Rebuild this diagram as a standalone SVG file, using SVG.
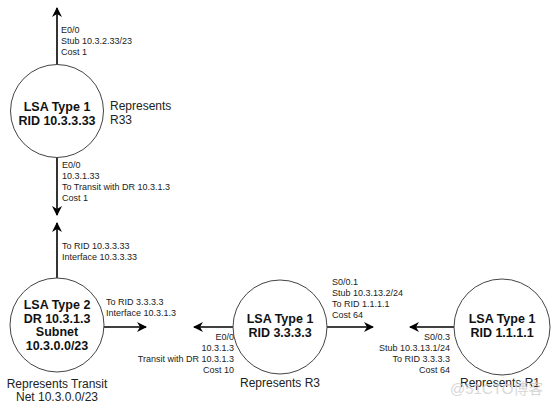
<svg xmlns="http://www.w3.org/2000/svg" width="558" height="409" viewBox="0 0 558 409">
<defs>
<marker id="ah" viewBox="0 0 10 10" refX="9" refY="5" markerWidth="10" markerHeight="10" markerUnits="userSpaceOnUse" orient="auto">
<path d="M0,0 L10,5 L0,10 L3,5 Z" fill="#000"/>
</marker>
<style>
.node{fill:#fff;stroke:#444;stroke-width:1}
.t{font-family:"Liberation Sans",Arial,sans-serif;font-weight:bold;font-size:12.5px;text-anchor:middle;fill:#111}
.r{font-family:"Liberation Sans",Arial,sans-serif;font-size:12px;fill:#222}
.l{font-family:"Liberation Sans",Arial,sans-serif;font-size:9px;fill:#222}
.e{text-anchor:end}
.m{text-anchor:middle}
.c{stroke:#000;stroke-width:1.6;fill:none;marker-end:url(#ah)}
</style>
</defs>
<rect width="558" height="409" fill="#fff"/>
<g id="connectors">
<line class="c" x1="57" y1="65" x2="57" y2="8"/>
<line class="c" x1="57" y1="158" x2="57" y2="215"/>
<line class="c" x1="57" y1="278" x2="57" y2="223"/>
<line class="c" x1="104" y1="327" x2="146" y2="327"/>
<line class="c" x1="233" y1="327" x2="194" y2="327"/>
<line class="c" x1="327" y1="327" x2="373" y2="327"/>
<line class="c" x1="454" y1="327" x2="410" y2="327"/>
<text class="l" x="61" y="33">E0/0</text>
<text class="l" x="61" y="44">Stub 10.3.2.33/23</text>
<text class="l" x="61" y="55">Cost 1</text>
<text class="l" x="62" y="168">E0/0</text>
<text class="l" x="62" y="179">10.3.1.33</text>
<text class="l" x="62" y="190">To Transit with DR 10.3.1.3</text>
<text class="l" x="62" y="201">Cost 1</text>
<text class="l" x="62" y="249">To RID 10.3.3.33</text>
<text class="l" x="62" y="260">Interface 10.3.3.33</text>
<text class="l" x="106" y="305">To RID 3.3.3.3</text>
<text class="l" x="106" y="316">Interface 10.3.1.3</text>
<text class="l e" x="234" y="340">E0/0</text>
<text class="l e" x="234" y="351">10.3.1.3</text>
<text class="l e" x="234" y="362">Transit with DR 10.3.1.3</text>
<text class="l e" x="234" y="373">Cost 10</text>
<text class="l" x="332" y="285">S0/0.1</text>
<text class="l" x="332" y="296">Stub 10.3.13.2/24</text>
<text class="l" x="332" y="307">To RID 1.1.1.1</text>
<text class="l" x="332" y="318">Cost 64</text>
<text class="l e" x="450" y="340">S0/0.3</text>
<text class="l e" x="450" y="351">Stub 10.3.13.1/24</text>
<text class="l e" x="450" y="362">To RID 3.3.3.3</text>
<text class="l e" x="450" y="373">Cost 64</text>
</g>
<g id="r33">
<circle class="node" cx="57" cy="111" r="46.5"/>
<text class="t" x="57" y="110.5">LSA Type 1</text>
<text class="t" x="57" y="124.5">RID 10.3.3.33</text>
<text class="r" x="110" y="110">Represents</text>
<text class="r" x="110" y="124">R33</text>
</g>
<g id="transit">
<circle class="node" cx="57" cy="325" r="47"/>
<text class="t" x="57" y="309">LSA Type 2</text>
<text class="t" x="57" y="322.5">DR 10.3.1.3</text>
<text class="t" x="57" y="336">Subnet</text>
<text class="t" x="57" y="349.5">10.3.0.0/23</text>
<text class="r m" x="57" y="388">Represents Transit</text>
<text class="r m" x="57" y="401">Net 10.3.0.0/23</text>
</g>
<g id="r3">
<circle class="node" cx="280" cy="327" r="47"/>
<text class="t" x="280" y="322.5">LSA Type 1</text>
<text class="t" x="280" y="336.5">RID 3.3.3.3</text>
<text class="r m" x="280" y="387">Represents R3</text>
</g>
<g id="r1">
<circle class="node" cx="502" cy="327" r="48"/>
<text class="t" x="502" y="322.5">LSA Type 1</text>
<text class="t" x="502" y="336.5">RID 1.1.1.1</text>
<text class="r m" x="500" y="387">Represents R1</text>
</g>
<text x="450" y="394" font-family="'Liberation Sans','Noto Sans CJK SC',sans-serif" font-size="15" fill="#cfcfcf" opacity="0.8">@51CTO博客</text>
</svg>
